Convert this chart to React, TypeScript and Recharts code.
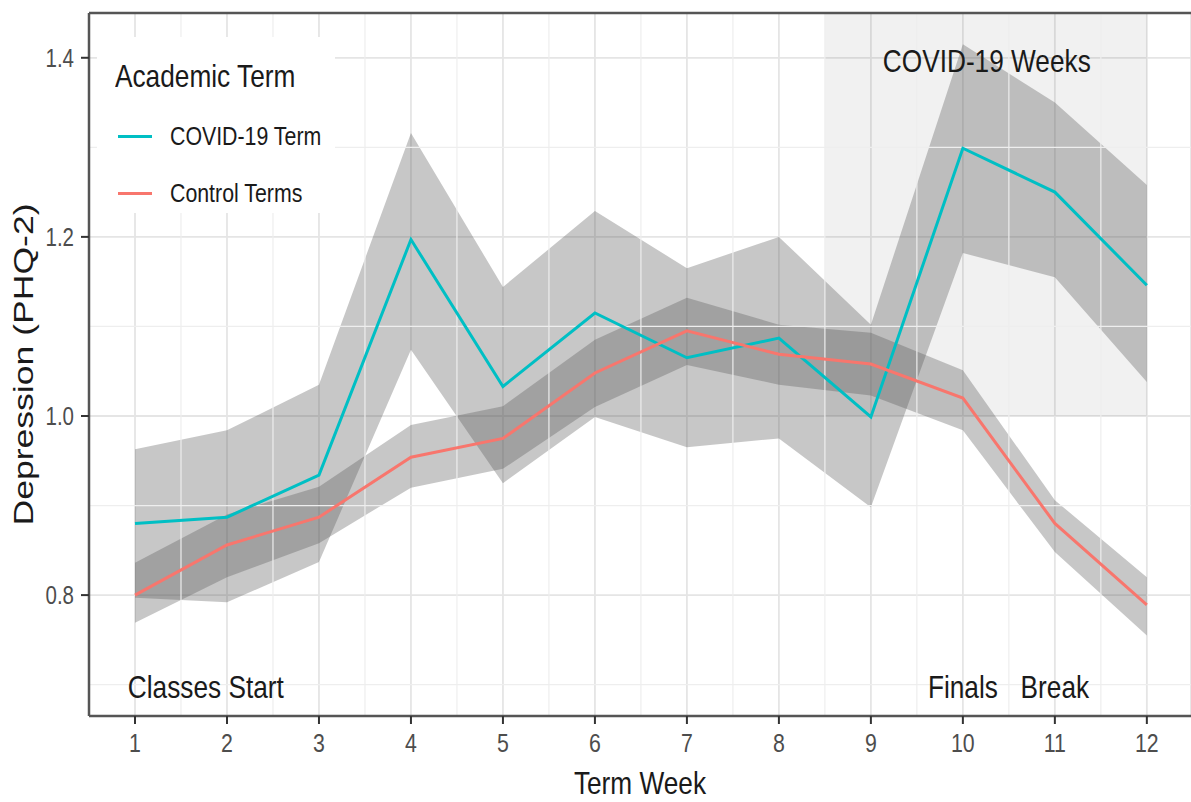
import React from "react";
import {
  ComposedChart,
  Area,
  Line,
  XAxis,
  YAxis,
  CartesianGrid,
  ReferenceArea,
  ReferenceLine,
  ReferenceDot,
  Legend,
} from "recharts";

const weeks = [1, 2, 3, 4, 5, 6, 7, 8, 9, 10, 11, 12];
const covidMean = [0.88, 0.887, 0.934, 1.197, 1.033, 1.115, 1.065, 1.087, 0.999, 1.299, 1.25, 1.146];
const covidLow = [0.797, 0.792, 0.837, 1.074, 0.925, 0.999, 0.965, 0.975, 0.898, 1.182, 1.155, 1.038];
const covidHigh = [0.963, 0.984, 1.035, 1.316, 1.144, 1.229, 1.165, 1.2, 1.102, 1.415, 1.35, 1.258];
const controlMean = [0.8, 0.856, 0.887, 0.954, 0.975, 1.048, 1.095, 1.069, 1.058, 1.02, 0.88, 0.789];
const controlLow = [0.769, 0.82, 0.858, 0.92, 0.941, 1.01, 1.057, 1.035, 1.023, 0.984, 0.848, 0.755];
const controlHigh = [0.836, 0.89, 0.921, 0.99, 1.011, 1.085, 1.132, 1.102, 1.093, 1.051, 0.906, 0.82];

const yTicks = [0.8, 1.0, 1.2, 1.4];
const yMinor = [0.7, 0.9, 1.1, 1.3];
const xMinor = [1.5, 2.5, 3.5, 4.5, 5.5, 6.5, 7.5, 8.5, 9.5, 10.5, 11.5];
const covidWeeks = [8.5, 12];
const covidShadeY = [1.0, 1.45];

const annotations = [
  { text: "Classes Start", week: 1.77, value: 0.685 },
  { text: "Finals", week: 10, value: 0.685 },
  { text: "Break", week: 11, value: 0.685 },
  { text: "COVID-19 Weeks", week: 10.26, value: 1.384 },
];

const data = weeks.map((w, i) => ({
  week: w,
  covid: covidMean[i],
  control: controlMean[i],
  covidBand: [covidLow[i], covidHigh[i]],
  controlBand: [controlLow[i], controlHigh[i]],
}));

const FONT = "'Liberation Sans', Arial, sans-serif";
const SX = 0.82; // the source image is horizontally condensed
const BORDER = "#555";

// horizontally condensed svg text
const SText = ({ x, y, anchor = "start", size, fill = "#1a1a1a", children }: any) => (
  <text
    transform={`translate(${x},${y}) scale(${SX},1)`}
    textAnchor={anchor}
    fontFamily={FONT}
    fontSize={size}
    fill={fill}
  >
    {children}
  </text>
);

const annotationLabel = (text: string) => (props: any) => {
  const { viewBox } = props;
  return (
    <SText x={viewBox.x} y={viewBox.y} anchor="middle" size={32}>
      {text}
    </SText>
  );
};

const XTick = (props: any) => (
  <SText x={props.x} y={props.y + 19} anchor="middle" size={26} fill="#4d4d4d">
    {props.payload.value}
  </SText>
);

const YTick = (props: any) => (
  <SText x={props.x} y={props.y + 9} anchor="end" size={25} fill="#4d4d4d">
    {Number(props.payload.value).toFixed(1)}
  </SText>
);

const XTitle = (props: any) => {
  const { viewBox } = props;
  return (
    <SText x={viewBox.x + viewBox.width / 2} y={viewBox.y + viewBox.height - 8} anchor="middle" size={32}>
      Term Week
    </SText>
  );
};

const YTitle = (props: any) => {
  const { viewBox } = props;
  const cx = viewBox.x + 33;
  const cy = viewBox.y + viewBox.height / 2;
  return (
    <text
      transform={`translate(${cx},${cy}) rotate(-90)`}
      textAnchor="middle"
      fontFamily={FONT}
      fontSize={28}
      textLength={322}
      lengthAdjust="spacingAndGlyphs"
      fill="#1a1a1a"
    >
      Depression (PHQ-2)
    </text>
  );
};

const LegendBox = (props: any) => {
  const items = (props.payload || []).filter((p: any) => p.type !== "none");
  const narrow = { transform: `scaleX(${SX})`, transformOrigin: "left top", whiteSpace: "nowrap" as const };
  return (
    <div
      style={{
        width: 238,
        height: 176,
        background: "#fff",
        fontFamily: FONT,
        color: "#1a1a1a",
        position: "relative",
      }}
    >
      <div style={{ position: "absolute", left: 18, top: 21, fontSize: 32, lineHeight: "36px", ...narrow }}>
        Academic Term
      </div>
      {items.map((it: any, i: number) => (
        <div key={it.value} style={{ position: "absolute", left: 21, top: 84 + i * 57, height: 30 }}>
          <div
            style={{
              position: "absolute",
              left: 0,
              top: 14,
              width: 34,
              height: 3,
              background: it.color,
            }}
          />
          <div
            style={{
              position: "absolute",
              left: 52,
              top: 0,
              fontSize: 26,
              lineHeight: "30px",
              ...narrow,
            }}
          >
            {it.value}
          </div>
        </div>
      ))}
    </div>
  );
};

export default function App() {
  return (
    <div style={{ position: "absolute", left: 0, top: 0, background: "#fff" }}>
      <ComposedChart
        width={1191}
        height={802}
        data={data}
        margin={{ top: 13, right: 0, bottom: 0, left: 0 }}
      >
        <CartesianGrid stroke="#e5e5e5" strokeWidth={1.8} />
        {yMinor.map((v) => (
          <ReferenceLine key={"ym" + v} y={v} stroke="#eeeeee" strokeWidth={1.2} />
        ))}
        {xMinor.map((v) => (
          <ReferenceLine key={"xm" + v} x={v} stroke="#eeeeee" strokeWidth={1.2} />
        ))}
        <ReferenceArea
          x1={covidWeeks[0]}
          x2={covidWeeks[1]}
          y1={covidShadeY[0]}
          y2={covidShadeY[1]}
          fill="#000"
          fillOpacity={0.055}
          stroke="none"
        />
        <XAxis
          dataKey="week"
          type="number"
          domain={[0.5, 12.48]}
          ticks={weeks}
          allowDataOverflow
          height={86}
          tickSize={8}
          tickMargin={9}
          axisLine={{ stroke: BORDER, strokeWidth: 2.5 }}
          tickLine={{ stroke: "#333", strokeWidth: 2 }}
          tick={<XTick />}
          label={<XTitle />}
        />
        <YAxis
          type="number"
          domain={[0.665, 1.45]}
          ticks={yTicks}
          allowDataOverflow
          width={89}
          tickSize={8}
          tickMargin={7}
          axisLine={{ stroke: BORDER, strokeWidth: 2.5 }}
          tickLine={{ stroke: "#333", strokeWidth: 2 }}
          tick={<YTick />}
          label={<YTitle />}
        />
        <ReferenceLine y={1.45} stroke={BORDER} strokeWidth={2.5} />
        <Area
          dataKey="covidBand"
          fill="#555"
          fillOpacity={0.33}
          stroke="none"
          legendType="none"
          isAnimationActive={false}
          activeDot={false}
        />
        <Area
          dataKey="controlBand"
          fill="#555"
          fillOpacity={0.33}
          stroke="none"
          legendType="none"
          isAnimationActive={false}
          activeDot={false}
        />
        <Line
          dataKey="covid"
          name="COVID-19 Term"
          stroke="#00BFC4"
          strokeWidth={3}
          dot={false}
          isAnimationActive={false}
        />
        <Line
          dataKey="control"
          name="Control Terms"
          stroke="#F8766D"
          strokeWidth={3}
          dot={false}
          isAnimationActive={false}
        />
        {annotations.map((a) => (
          <ReferenceDot
            key={a.text}
            x={a.week}
            y={a.value}
            r={0}
            stroke="none"
            fill="none"
            label={annotationLabel(a.text)}
          />
        ))}
        <Legend
          layout="horizontal"
          verticalAlign="middle"
          align="center"
          content={<LegendBox />}
          wrapperStyle={{ left: 97, top: 37, width: 238, height: 176 }}
        />
      </ComposedChart>
    </div>
  );
}
